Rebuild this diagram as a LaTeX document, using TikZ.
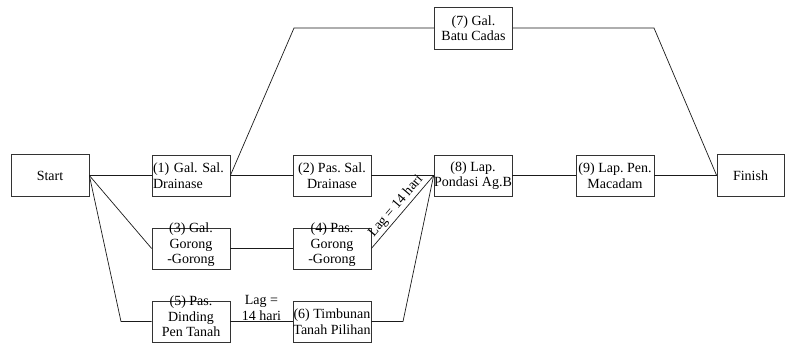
\documentclass[tikz,border=0pt]{standalone}
\usepackage{fontspec}
\setmainfont{Liberation Serif}
\frenchspacing
\definecolor{ink}{HTML}{1A1A1A}
\definecolor{frame}{HTML}{333333}
\newcommand{\cramped}[1]{\smash{\begin{tabular}{@{}c@{}}#1\end{tabular}}}
\tikzset{
    task/.style={draw=frame, fill=white, line width=0.7pt,
                 minimum width=78pt, minimum height=41pt,
                 inner sep=0pt, align=center},
    end task/.style={task, minimum height=42pt},
    link/.style={draw=ink, line width=0.7pt},
    lag note/.style={inner sep=1pt, align=center},
}

\begin{document}
\begin{tikzpicture}[x=1pt, y=-1pt, font=\fontsize{14}{15.5}\selectfont]
\useasboundingbox (0,0) rectangle (786,343);

% Activities of the network, one box each.
\node[end task] (start) at (50,175.5) {Start};
\node[task, align=left, text width=76pt] (n1) at (191,175.5)
    {(1) Gal. Sal.\\Drainase};
\node[task] (n2) at (332,175.5) {(2) Pas. Sal.\\Drainase};
\node[task] (n3) at (191,248.5) {\cramped{(3) Gal.\\Gorong\\-Gorong}};
\node[task] (n4) at (332,248.5) {\cramped{(4) Pas.\\Gorong\\-Gorong}};
\node[task] (n5) at (191,321.5) {\cramped{(5) Pas.\\Dinding\\Pen Tanah}};
\node[task] (n6) at (332,321.5) {(6) Timbunan\\Tanah Pilihan};
\node[end task] (n7) at (473.5,28) {(7) Gal.\\Batu Cadas};
\node[task] (n8) at (473,175.5) {(8) Lap.\\Pondasi Ag.B};
\node[task] (n9) at (615,175.5) {(9) Lap. Pen.\\Macadam};
\node[end task, minimum width=67pt] (finish) at (750.5,175.5) {Finish};

% Bends of the dog-leg links.
\coordinate (up7) at (294,28);
\coordinate (down7) at (654,28);
\coordinate (low5) at (121,321.5);
\coordinate (low6) at (403,321.5);

% Dependencies between the activities.
\draw[link] (start.east) -- (n1.west);
\draw[link] (start.east) -- (n3.west);
\draw[link] (start.east) -- (low5) -- (n5.west);
\draw[link] (n1.east) -- (n2.west);
\draw[link] (n1.east) -- (up7) -- (n7.west);
\draw[link] (n2.east) -- (n8.west);
\draw[link] (n3.east) -- (n4.west);
\draw[link] (n4.east) -- (n8.west)
    node[midway, sloped, above, inner sep=2pt] {Lag = 14 hari};
\draw[link] (n5.east) -- (n6.west)
    node[midway, above, lag note] {Lag =\\14 hari};
\draw[link] (n6.east) -- (low6) -- (n8.west);
\draw[link] (n8.east) -- (n9.west);
\draw[link] (n9.east) -- (finish.west);
\draw[link] (n7.east) -- (down7) -- (finish.west);

\end{tikzpicture}
\end{document}
